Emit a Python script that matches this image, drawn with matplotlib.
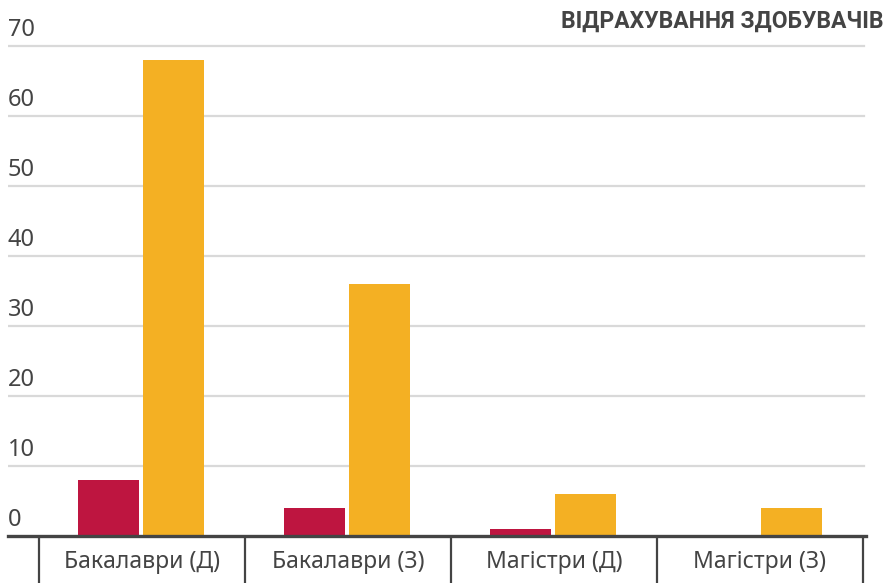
import matplotlib
matplotlib.use("Agg")
import matplotlib.pyplot as plt
import numpy as np

plt.rcParams['font.family'] = ['Noto Sans', 'DejaVu Sans']

categories = ["Бакалаври (Д)", "Бакалаври (З)", "Магістри (Д)", "Магістри (З)"]
red_values = [8, 4, 1, 0]
orange_values = [68, 36, 6, 4]
yticks = [0, 10, 20, 30, 40, 50, 60, 70]
title = "ВІДРАХУВАННЯ ЗДОБУВАЧІВ"

RED = "#be1540"
ORANGE = "#f4b023"
TXT = "#444444"

W, H = 896, 583
fig = plt.figure(figsize=(W / 100, H / 100), dpi=100)

# axes in pixel coords: x 8..866, y baseline 536, 7 px per unit
ymax = 72
bottom_px = 536
top_px = bottom_px - ymax * 7.0
ax = fig.add_axes([8 / W, (H - bottom_px) / H, (866 - 8) / W, (bottom_px - top_px) / H])

x = np.arange(len(categories))
ax.bar(x - 0.162, red_values, width=0.296, color=RED, zorder=3)
ax.bar(x + 0.153, orange_values, width=0.296, color=ORANGE, zorder=3)

ax.set_xlim(-0.65, 3.515)
ax.set_ylim(0, ymax)

for s in ["top", "right", "left"]:
    ax.spines[s].set_visible(False)
ax.spines["bottom"].set_color(TXT)
ax.spines["bottom"].set_linewidth(2.4)
ax.spines["bottom"].set_zorder(4)

# grid
for v in yticks[1:]:
    ax.axhline(v, xmin=0, xmax=(864 - 8) / (866 - 8), color="#d9d9d9", lw=1.6, zorder=1)

ax.set_yticks([])
for v in yticks:
    ax.annotate(str(v), xy=(0, v), xycoords=("axes fraction", "data"),
                xytext=(0, 7), textcoords="offset points",
                ha="left", va="baseline", fontsize=17, color=TXT)

ax.set_xticks(x)
ax.set_xticklabels(categories, fontsize=16.5, color=TXT)
ax.tick_params(axis="x", which="major", length=0, pad=10)
ax.set_xticks(np.arange(-0.5, len(categories)), minor=True)
ax.tick_params(axis="x", which="minor", length=36, width=1.6, color=TXT, direction="out")

fig.text(883 / W, 1 - 21 / H, title, ha="right", va="center", family="Roboto",
         fontsize=16.5, fontweight="bold", color=TXT)

fig.savefig("out.png", dpi=100)
